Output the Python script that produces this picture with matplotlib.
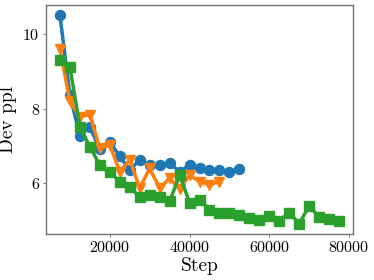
import numpy as np
import matplotlib

matplotlib.use("Agg")
import matplotlib.pyplot as plt

plt.rcParams["font.family"] = "cmr10"
plt.rcParams["mathtext.fontset"] = "cm"
plt.rcParams["axes.formatter.use_mathtext"] = True

# values
steps_blue = [7500, 10000, 12500, 15000, 17500, 20000, 22500, 25000, 27500,
              30000, 32500, 35000, 37500, 40000, 42500, 45000, 47500, 50000,
              52500]
ppl_blue = [10.51, 8.36, 7.26, 7.51, 6.90, 7.11, 6.71, 6.35, 6.62,
            6.48, 6.48, 6.53, 6.30, 6.48, 6.41, 6.35, 6.35, 6.30, 6.37]

steps_orange = [7500, 10000, 12500, 15000, 17500, 20000, 22500, 25000,
                27500, 30000, 32500, 35000, 37500, 40000, 42500, 45000,
                47500]
ppl_orange = [9.60, 8.20, 7.78, 7.84, 6.93, 7.02, 6.30, 6.62,
              5.86, 6.39, 5.86, 6.12, 5.83, 6.21, 6.03, 5.95, 6.03]

steps_green = [7500, 10000, 12500, 15000, 17500, 20000, 22500, 25000,
               27500, 30000, 32500, 35000, 37500, 40000, 42500, 45000,
               47500, 50000, 52500, 55000, 57500, 60000, 62500, 65000,
               67500, 70000, 72500, 75000, 77500]
ppl_green = [9.30, 9.12, 7.51, 6.97, 6.48, 6.30, 6.03, 5.90,
             5.61, 5.68, 5.61, 5.50, 6.21, 5.47, 5.55, 5.28,
             5.18, 5.19, 5.14, 5.05, 5.01, 5.10, 4.98, 5.20,
             4.90, 5.38, 5.08, 5.03, 4.96]

fig = plt.figure(figsize=(3.74, 2.80), dpi=100)
ax = fig.add_axes([0.123, 0.164, 0.821, 0.818])

ax.plot(steps_blue, ppl_blue, marker="o", color="C0", lw=2.5, ms=7.2)
ax.plot(steps_orange, ppl_orange, marker="v", color="C1", lw=2.5, ms=7.5)
ax.plot(steps_green, ppl_green, marker="s", color="C2", lw=2.5, ms=6.5)

ax.set_xticks([20000, 40000, 60000, 80000])
ax.set_yticks([6, 8, 10])
ax.set_xlabel("Step", fontsize=14, labelpad=1)
ax.set_ylabel("Dev ppl", fontsize=14, labelpad=4)
ax.tick_params(labelsize=11.5, length=2.5, width=0.8, color="0.5", pad=2)
for spine in ax.spines.values():
    spine.set_color("0.45")
    spine.set_linewidth(1.0)

fig.savefig("out.png", dpi=100)
